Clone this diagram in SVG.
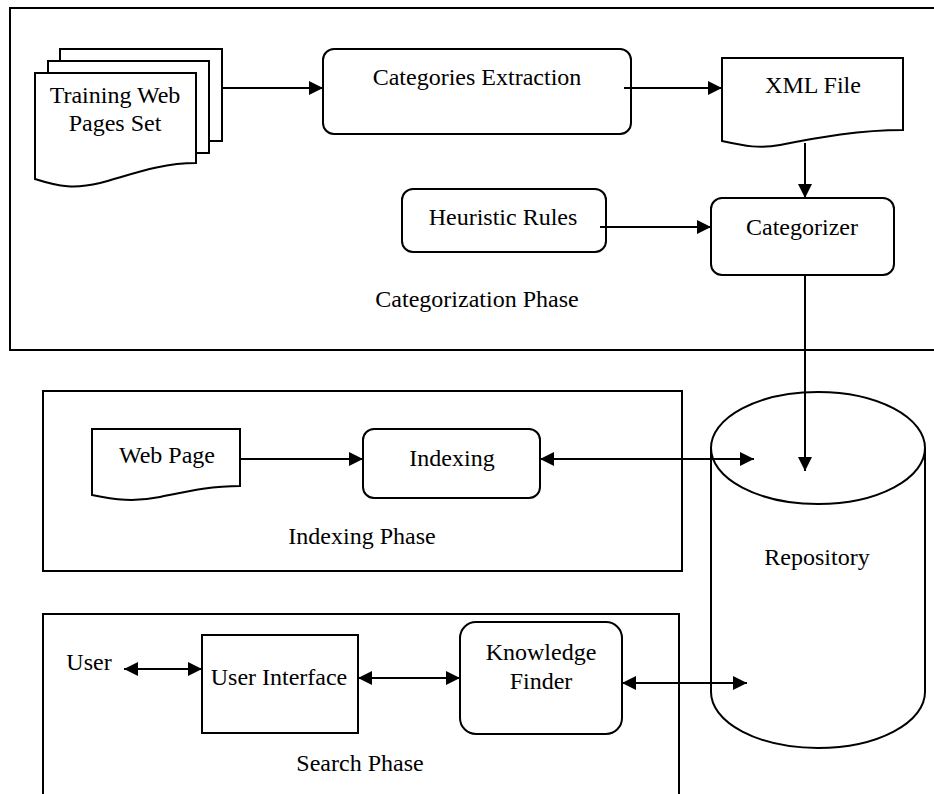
<svg xmlns="http://www.w3.org/2000/svg" width="934" height="794" viewBox="0 0 934 794">
<style>
  .frame{fill:none;stroke:#000;stroke-width:2}
  .box{fill:#fff;stroke:#000;stroke-width:2}
  .t{font-family:"Liberation Serif","Times New Roman",serif;font-size:24px;fill:#000;text-anchor:middle}
  .ln{fill:none;stroke:#000;stroke-width:2}
</style>
<defs>
  <marker id="arr" viewBox="0 0 14 14" refX="14" refY="7" markerWidth="14" markerHeight="14" markerUnits="userSpaceOnUse" orient="auto-start-reverse">
    <path d="M0,0 L14,7 L0,14 Z" fill="#000"/>
  </marker>
</defs>
<rect width="934" height="794" fill="#fff"/>

<g id="categorization-phase">
  <rect class="frame" x="10" y="8" width="930" height="342"/>
  <text class="t" x="477" y="307">Categorization Phase</text>
</g>
<g id="indexing-phase">
  <rect class="frame" x="43" y="391" width="639" height="180"/>
  <text class="t" x="362" y="544">Indexing Phase</text>
</g>
<g id="search-phase">
  <path class="frame" d="M43,800 V614 H679 V800"/>
  <text class="t" x="360" y="771">Search Phase</text>
</g>

<g id="training">
  <path class="box" d="M60,49 H222 V141 H60 Z"/>
  <path class="box" d="M48,61 H209 V153 H48 Z"/>
  <path class="box" d="M35,73 H196 V163 C160,163 130,175 100,183 C75,189 60,187 35,179 Z"/>
  <text class="t" x="115" y="103">Training Web</text>
  <text class="t" x="115" y="131">Pages Set</text>
</g>
<g id="categories-extraction">
  <rect class="box" x="323" y="49" width="308" height="85" rx="11"/>
  <text class="t" x="477" y="85">Categories Extraction</text>
</g>
<g id="xml-file">
  <path class="box" d="M722,58 H903 V130 C860,130 820,137 780,145 C760,149 745,146 722,141 Z"/>
  <text class="t" x="813" y="93">XML File</text>
</g>
<g id="heuristic-rules">
  <rect class="box" x="402" y="189" width="204" height="63" rx="11"/>
  <text class="t" x="503" y="225">Heuristic Rules</text>
</g>
<g id="categorizer">
  <rect class="box" x="711" y="198" width="183" height="77" rx="11"/>
  <text class="t" x="802" y="235">Categorizer</text>
</g>
<g id="repository">
  <path class="box" d="M711,448 V692 A107,56 0 0 0 925,692 V448"/>
  <ellipse class="box" cx="818" cy="448" rx="107" ry="56"/>
  <text class="t" x="817" y="565">Repository</text>
</g>
<g id="web-page">
  <path class="box" d="M92,429 H240 V486 C210,486 185,492 160,497 C135,502 115,500 92,495 Z"/>
  <text class="t" x="167" y="463">Web Page</text>
</g>
<g id="indexing">
  <rect class="box" x="363" y="429" width="177" height="69" rx="11"/>
  <text class="t" x="452" y="466">Indexing</text>
</g>
<g id="user">
  <text class="t" x="89" y="670">User</text>
</g>
<g id="user-interface">
  <rect class="box" x="202" y="635" width="156" height="98"/>
  <text class="t" x="279" y="685">User Interface</text>
</g>
<g id="knowledge-finder">
  <rect class="box" x="460" y="622" width="162" height="112" rx="16"/>
  <text class="t" x="541" y="660">Knowledge</text>
  <text class="t" x="541" y="689">Finder</text>
</g>

<g id="connectors">
  <line class="ln" x1="222" y1="88" x2="323" y2="88" marker-end="url(#arr)"/>
  <line class="ln" x1="624" y1="88" x2="722" y2="88" marker-end="url(#arr)"/>
  <line class="ln" x1="805" y1="143" x2="805" y2="198" marker-end="url(#arr)"/>
  <line class="ln" x1="600" y1="227" x2="711" y2="227" marker-end="url(#arr)"/>
  <line class="ln" x1="805" y1="275" x2="805" y2="471" marker-end="url(#arr)"/>
  <line class="ln" x1="240" y1="459" x2="363" y2="459" marker-end="url(#arr)"/>
  <line class="ln" x1="540" y1="459" x2="754" y2="459" marker-start="url(#arr)" marker-end="url(#arr)"/>
  <line class="ln" x1="124" y1="669" x2="202" y2="669" marker-start="url(#arr)" marker-end="url(#arr)"/>
  <line class="ln" x1="358" y1="678" x2="460" y2="678" marker-start="url(#arr)" marker-end="url(#arr)"/>
  <line class="ln" x1="622" y1="683" x2="747" y2="683" marker-start="url(#arr)" marker-end="url(#arr)"/>
</g>
</svg>
